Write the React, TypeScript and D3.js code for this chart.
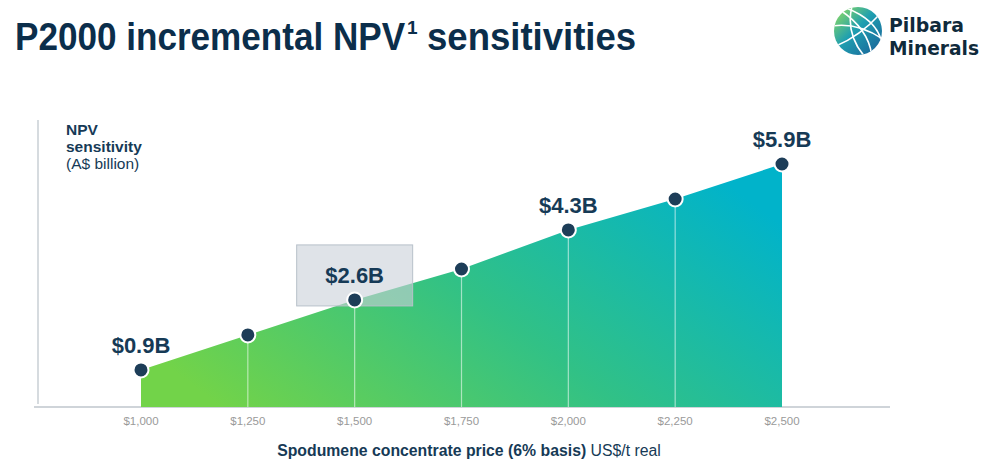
import React from "react";
import * as d3 from "d3";

// Spodumene price points (US$/t) and the incremental NPV at each (A$ billion)
const prices = [1000, 1250, 1500, 1750, 2000, 2250, 2500];
const npv = [0.9, 1.75, 2.6, 3.35, 4.3, 5.05, 5.9];
const tickLabels = ["$1,000", "$1,250", "$1,500", "$1,750", "$2,000", "$2,250", "$2,500"];
// Points that carry a value callout
const labelled = [
  { price: 1000, value: 0.9, text: "$0.9B", boxed: false },
  { price: 1500, value: 2.6, text: "$2.6B", boxed: true },
  { price: 2000, value: 4.3, text: "$4.3B", boxed: false },
  { price: 2500, value: 5.9, text: "$5.9B", boxed: false },
];

const W = 1000;
const H = 472;
const NAVY = "#163a56";
const FONT = "'Liberation Sans', Arial, sans-serif";

export default function App() {
  const x = d3.scaleLinear().domain([1000, 2500]).range([141, 782]);
  const y = d3.scaleLinear().domain([0, 5.9]).range([407, 164]);

  const data = prices.map((p, i) => ({ p, v: npv[i] }));
  const area = d3
    .area<{ p: number; v: number }>()
    .x((d) => x(d.p))
    .y0(y(0))
    .y1((d) => y(d.v));

  return (
    <svg
      width={W}
      height={H}
      viewBox={`0 0 ${W} ${H}`}
      style={{ position: "absolute", left: 0, top: 0, background: "#fff" }}
    >
      <defs>
        <linearGradient id="areaGrad" x1="0" y1="0.75" x2="1" y2="0.25">
          <stop offset="0" stopColor="#72d349" />
          <stop offset="0.5" stopColor="#31c186" />
          <stop offset="1" stopColor="#01b3ca" />
        </linearGradient>
        <linearGradient id="globeGrad" x1="0.1" y1="0.1" x2="0.9" y2="0.9">
          <stop offset="0" stopColor="#7fd36a" />
          <stop offset="0.45" stopColor="#1f9fb0" />
          <stop offset="1" stopColor="#1b6a9c" />
        </linearGradient>
        <clipPath id="globeClip">
          <circle cx={858} cy={31} r={24} />
        </clipPath>
      </defs>

      {/* Title: condensed by horizontal scaling */}
      <g fontFamily={FONT} fontWeight="bold" fill="#0b2e4b">
        <text transform="translate(15,50) scale(0.9,1)" fontSize={39}>
          P2000 incremental NPV
        </text>
        <text x={407} y={34} fontSize={19}>
          1
        </text>
        <text transform="translate(427,50) scale(0.937,1)" fontSize={39}>
          sensitivities
        </text>
      </g>

      {/* Logo */}
      <g>
        <circle cx={858} cy={31} r={24} fill="url(#globeGrad)" />
        <g clipPath="url(#globeClip)" fill="none" stroke="#fff" strokeWidth={1.6}>
          <path d="M840,10 Q870,30 872,58" />
          <path d="M852,6 Q845,35 866,58" />
          <path d="M832,26 Q858,22 884,40" />
          <path d="M836,46 Q860,36 880,14" />
          <path d="M846,8 Q878,20 882,44" />
        </g>
        <text
          x={889}
          y={32}
          fontFamily="'DejaVu Sans', sans-serif"
          fontWeight="bold"
          fontSize={19}
          fill="#0f2a3b"
          textLength={75}
          lengthAdjust="spacingAndGlyphs"
        >
          Pilbara
        </text>
        <text
          x={889}
          y={55}
          fontFamily="'DejaVu Sans', sans-serif"
          fontWeight="bold"
          fontSize={19}
          fill="#0f2a3b"
          textLength={90}
          lengthAdjust="spacingAndGlyphs"
        >
          Minerals
        </text>
      </g>

      {/* Axes */}
      <line x1={38} x2={38} y1={120} y2={404} stroke="#c9cfd4" strokeWidth={1.5} />
      <line x1={34} x2={890} y1={407} y2={407} stroke="#bfc6cc" strokeWidth={1.5} />

      {/* Y axis title */}
      <text fontFamily={FONT} fontSize={15.5} fill={NAVY}>
        <tspan x={66} y={135} fontWeight="bold">NPV</tspan>
        <tspan x={66} y={152} fontWeight="bold">sensitivity</tspan>
        <tspan x={66} y={169}>(A$ billion)</tspan>
      </text>

      {/* Area */}
      <path d={area(data) ?? ""} fill="url(#areaGrad)" />

      {/* Drop lines */}
      {data.slice(1, -1).map((d) => (
        <line
          key={d.p}
          x1={x(d.p)}
          x2={x(d.p)}
          y1={y(d.v)}
          y2={y(0)}
          stroke="#ffffff"
          strokeOpacity={0.55}
          strokeWidth={1.2}
        />
      ))}

      {/* Highlight box */}
      {labelled
        .filter((l) => l.boxed)
        .map((l) => (
          <rect
            key={l.price}
            x={x(l.price) - 58}
            y={y(l.value) - 55}
            width={116}
            height={61}
            fill="#c9d1d9"
            fillOpacity={0.6}
            stroke="#b8c1ca"
            strokeWidth={1}
          />
        ))}

      {/* Points */}
      {data.map((d) => (
        <circle
          key={d.p}
          cx={x(d.p)}
          cy={y(d.v)}
          r={7.5}
          fill="#1d3d58"
          stroke="#ffffff"
          strokeWidth={2}
        />
      ))}

      {/* Value labels */}
      {labelled.map((l) => (
        <text
          key={l.price}
          x={x(l.price)}
          y={y(l.value) - 17}
          textAnchor="middle"
          fontFamily={FONT}
          fontWeight="bold"
          fontSize={22}
          fill={NAVY}
        >
          {l.text}
        </text>
      ))}

      {/* X ticks */}
      {prices.map((p, i) => (
        <text
          key={p}
          x={x(p)}
          y={425}
          textAnchor="middle"
          fontFamily={FONT}
          fontSize={11.5}
          fill="#9a9a9a"
        >
          {tickLabels[i]}
        </text>
      ))}

      {/* X axis title */}
      <text x={469} y={456} textAnchor="middle" fontFamily={FONT} fontSize={15.8} fill={NAVY}>
        <tspan fontWeight="bold">Spodumene concentrate price (6% basis)</tspan>
        <tspan> US$/t real</tspan>
      </text>
    </svg>
  );
}
